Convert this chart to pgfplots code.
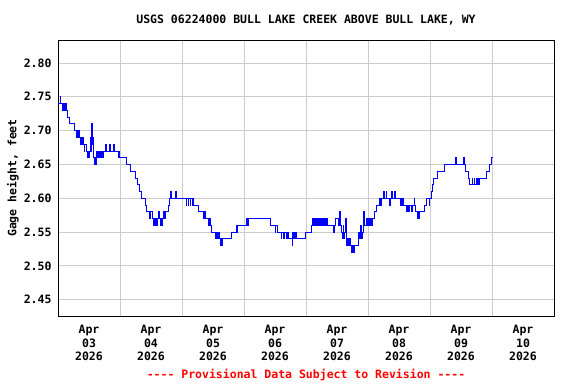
\documentclass[border=0pt]{standalone}
\usepackage{pgfplots}
\pgfplotsset{compat=1.18}
\usepackage{fontspec}
\setmainfont{DejaVu Sans Mono}
\definecolor{gridgray}{RGB}{204,204,204}
\definecolor{usgsblue}{RGB}{0,0,255}
\definecolor{usgsred}{RGB}{255,0,0}
\newcommand{\dsh}{-\kern0pt-\kern0pt-\kern0pt-}
\begin{document}
\begin{tikzpicture}
\useasboundingbox (0pt,0pt) rectangle (576pt,384pt);
\begin{axis}[
  at={(58pt,68pt)}, anchor=south west,
  scale only axis, width=496pt, height=276pt,
  xmin=0, xmax=8, ymin=2.4258, ymax=2.834,
  xtick={0.5,1.5,2.5,3.5,4.5,5.5,6.5,7.5},
  xticklabels={{Apr\\03\\2026},{Apr\\04\\2026},{Apr\\05\\2026},{Apr\\06\\2026},{Apr\\07\\2026},{Apr\\08\\2026},{Apr\\09\\2026},{Apr\\10\\2026}},
  xticklabel style={align=center, font=\fontsize{11.5}{13.6}\selectfont\bfseries, yshift=-5.5pt},
  minor xtick={1,2,3,4,5,6,7},
  xminorgrids=true, xmajorgrids=false, ymajorgrids=true,
  ytick={2.45,2.50,2.55,2.60,2.65,2.70,2.75,2.80},
  yticklabel style={font=\fontsize{11.5}{13.5}\selectfont\bfseries, xshift=-3pt,
    /pgf/number format/.cd, fixed, fixed zerofill, precision=2, assume math mode=true},
  major tick length=0pt, minor tick length=0pt,
  major grid style={draw=gridgray, line width=0.9pt},
  minor grid style={draw=gridgray, line width=0.9pt},
  axis line style={line width=1pt, black},
  clip=true,
]
\addplot[const plot, draw=usgsblue, line width=0.7pt] coordinates {
(0.000,2.74) (0.030,2.75) (0.040,2.74) (0.075,2.73) (0.085,2.74) (0.095,2.73) (0.105,2.74) (0.115,2.73) (0.125,2.74)
(0.140,2.73) (0.150,2.72) (0.183,2.71) (0.258,2.70) (0.290,2.69) (0.300,2.70) (0.312,2.69) (0.325,2.70) (0.344,2.69)
(0.360,2.68) (0.370,2.69) (0.382,2.68) (0.395,2.69) (0.409,2.68) (0.420,2.67) (0.430,2.68) (0.452,2.67) (0.470,2.66)
(0.480,2.67) (0.489,2.66) (0.505,2.67) (0.521,2.69) (0.530,2.67) (0.538,2.71) (0.546,2.68) (0.555,2.69) (0.565,2.66)
(0.580,2.65) (0.590,2.66) (0.602,2.65) (0.612,2.66) (0.624,2.67) (0.634,2.66) (0.650,2.67) (0.660,2.66) (0.677,2.67)
(0.687,2.66) (0.700,2.67) (0.710,2.66) (0.731,2.67) (0.769,2.68) (0.785,2.67) (0.828,2.68) (0.840,2.67) (0.892,2.68)
(0.905,2.67) (0.973,2.66) (0.983,2.67) (0.993,2.66) (1.097,2.65) (1.161,2.64) (1.250,2.63) (1.280,2.62) (1.312,2.61)
(1.349,2.60) (1.403,2.59) (1.419,2.58) (1.470,2.57) (1.484,2.58) (1.516,2.57) (1.530,2.56) (1.548,2.57) (1.565,2.56)
(1.580,2.57) (1.591,2.56) (1.605,2.57) (1.618,2.58) (1.630,2.57) (1.645,2.56) (1.661,2.57) (1.672,2.56) (1.683,2.57)
(1.699,2.58) (1.710,2.57) (1.726,2.58) (1.780,2.59) (1.790,2.60) (1.806,2.61) (1.825,2.60) (1.898,2.61) (1.908,2.60)
(2.065,2.59) (2.075,2.60) (2.100,2.59) (2.110,2.60) (2.130,2.59) (2.140,2.60) (2.160,2.59) (2.170,2.60) (2.183,2.59)
(2.263,2.58) (2.344,2.57) (2.354,2.58) (2.371,2.57) (2.425,2.56) (2.435,2.57) (2.452,2.56) (2.478,2.55) (2.543,2.54)
(2.559,2.55) (2.570,2.54) (2.586,2.55) (2.596,2.54) (2.613,2.53) (2.624,2.54) (2.635,2.53) (2.656,2.54) (2.801,2.55)
(2.871,2.56) (2.881,2.55) (2.895,2.56) (3.043,2.57) (3.055,2.56) (3.065,2.57) (3.419,2.56) (3.500,2.55) (3.510,2.56)
(3.530,2.55) (3.597,2.54) (3.607,2.55) (3.640,2.54) (3.650,2.55) (3.690,2.54) (3.700,2.55) (3.715,2.54) (3.774,2.53)
(3.784,2.55) (3.800,2.54) (3.810,2.55) (3.825,2.54) (3.835,2.55) (3.845,2.54) (3.984,2.55) (4.091,2.56) (4.110,2.57)
(4.120,2.56) (4.140,2.57) (4.150,2.56) (4.165,2.57) (4.175,2.56) (4.190,2.57) (4.200,2.56) (4.215,2.57) (4.225,2.56)
(4.245,2.57) (4.255,2.56) (4.270,2.57) (4.280,2.56) (4.300,2.57) (4.310,2.56) (4.330,2.57) (4.340,2.56) (4.441,2.55)
(4.451,2.56) (4.468,2.57) (4.520,2.56) (4.530,2.57) (4.545,2.58) (4.555,2.56) (4.575,2.55) (4.590,2.54) (4.600,2.56)
(4.610,2.54) (4.625,2.55) (4.635,2.57) (4.645,2.54) (4.656,2.53) (4.670,2.54) (4.685,2.53) (4.700,2.54) (4.710,2.53)
(4.730,2.52) (4.745,2.53) (4.763,2.52) (4.775,2.53) (4.844,2.55) (4.855,2.54) (4.871,2.56) (4.885,2.54) (4.909,2.55)
(4.920,2.58) (4.935,2.56) (4.978,2.57) (4.990,2.56) (5.005,2.57) (5.020,2.56) (5.032,2.57) (5.050,2.56) (5.065,2.57)
(5.102,2.58) (5.140,2.59) (5.183,2.60) (5.195,2.59) (5.210,2.60) (5.247,2.61) (5.260,2.60) (5.290,2.61) (5.300,2.60)
(5.344,2.59) (5.354,2.60) (5.382,2.61) (5.392,2.60) (5.425,2.61) (5.435,2.60) (5.516,2.59) (5.526,2.60) (5.540,2.59)
(5.550,2.60) (5.570,2.59) (5.624,2.58) (5.635,2.59) (5.650,2.58) (5.660,2.59) (5.704,2.58) (5.715,2.59) (5.740,2.60)
(5.750,2.59) (5.765,2.58) (5.790,2.57) (5.800,2.58) (5.812,2.57) (5.825,2.58) (5.909,2.59) (5.946,2.60) (5.984,2.59)
(5.994,2.60) (6.016,2.61) (6.038,2.62) (6.059,2.63) (6.113,2.64) (6.231,2.65) (6.414,2.66) (6.424,2.65) (6.543,2.66)
(6.560,2.65) (6.575,2.64) (6.590,2.64) (6.618,2.63) (6.640,2.62) (6.680,2.63) (6.690,2.62) (6.710,2.63) (6.720,2.62)
(6.740,2.63) (6.750,2.62) (6.770,2.63) (6.780,2.62) (6.790,2.63) (6.914,2.64) (6.952,2.65) (6.984,2.66) (7.021,2.66)
};
\end{axis}
\node[font=\fontsize{11.5}{13.5}\selectfont\bfseries, anchor=center] at (306pt,364pt) {USGS 06224000 BULL LAKE CREEK ABOVE BULL LAKE, WY};
\node[font=\fontsize{11.5}{13.5}\selectfont\bfseries, rotate=90, anchor=center] at (13pt,206pt) {Gage height, feet};
\node[font=\fontsize{11.5}{13.5}\selectfont\bfseries, text=usgsred, anchor=center] at (306pt,9pt) {\dsh{} Provisional Data Subject to Revision \dsh};
\end{tikzpicture}
\end{document}
